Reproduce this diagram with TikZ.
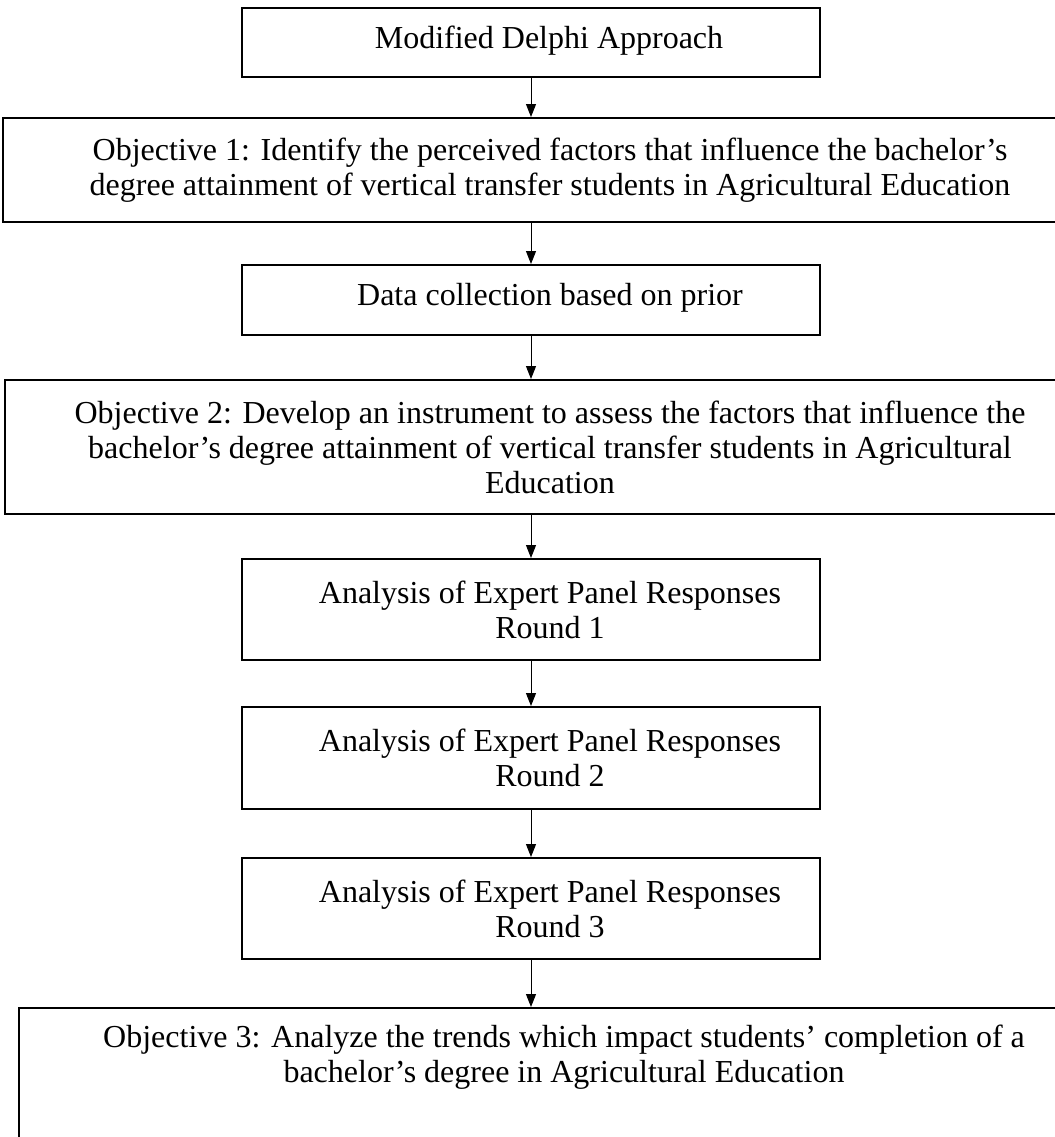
\documentclass[tikz,border=0pt]{standalone}
\usepackage{fontspec}
\setmainfont{Liberation Serif}
\usetikzlibrary{arrows.meta,positioning}

\begin{document}
\begin{tikzpicture}[x=0.5pt, y=-0.5pt,
    box/.style={draw, line width=1pt, rectangle, inner sep=0pt},
    smallbox/.style={box, minimum width=289pt},
    boxtext/.style={align=center, inner sep=0pt, font=\fontsize{16}{17.5}\selectfont},
    flow/.style={-{Triangle[length=6.5pt,width=5pt]}, line width=0.5pt}]
    \useasboundingbox (0,0) rectangle (1055,1137);
    \clip (0,0) rectangle (1055,1137);

    % Cadres
    \node[smallbox, minimum height=34.5pt] (delphi) at (531,42.5) {};
    \node[box, minimum width=528pt, minimum height=52pt] (obj1) at (531,170) {};
    \node[smallbox, minimum height=35pt] (data) at (531,300) {};
    \node[box, minimum width=526pt, minimum height=67pt] (obj2) at (531,447) {};
    \node[smallbox, minimum height=50.5pt] (round1) at (531,609.5) {};
    \node[smallbox, minimum height=51pt] (round2) at (531,758) {};
    \node[smallbox, minimum height=50.5pt] (round3) at (531,908.5) {};
    % boîte coupée en bas et à droite
    \node[box, minimum width=581pt, minimum height=90pt, anchor=north] (obj3) at (600,1007) {};

    % Textes (décalés vers la droite comme dans l'original)
    \node[boxtext] (delphi-txt) at ([xshift=9pt,yshift=1pt]delphi.center) {Modified Delphi Approach};
    \node[boxtext] (obj1-txt) at ([xshift=9.5pt]obj1.center)
        {Objective 1: Identify the perceived factors that influence the bachelor's\\
         degree attainment of vertical transfer students in Agricultural Education};
    \node[boxtext] (data-txt) at ([xshift=9.5pt,yshift=1pt]data.center) {Data collection based on prior};
    \node[boxtext] (obj2-txt) at ([xshift=9.5pt]obj2.center)
        {Objective 2: Develop an instrument to assess the factors that influence the\\
         bachelor's degree attainment of vertical transfer students in Agricultural\\
         Education};
    \foreach \rnd in {1,2,3}
        \node[boxtext] (round\rnd-txt) at ([xshift=9.5pt]round\rnd.center)
            {Analysis of Expert Panel Responses\\ Round \rnd};
    \node[boxtext] (obj3-txt) at (564,1057)
        {Objective 3: Analyze the trends which impact students' completion of a\\
         bachelor's degree in Agricultural Education};

    % Flèches
    \draw[flow] (delphi) -- (obj1);
    \draw[flow] (obj1) -- (data);
    \draw[flow] (data) -- (obj2);
    \draw[flow] (obj2) -- (round1);
    \draw[flow] (round1) -- (round2);
    \draw[flow] (round2) -- (round3);
    \draw[flow] (round3) -- (round3 |- obj3.north);
\end{tikzpicture}
\end{document}
